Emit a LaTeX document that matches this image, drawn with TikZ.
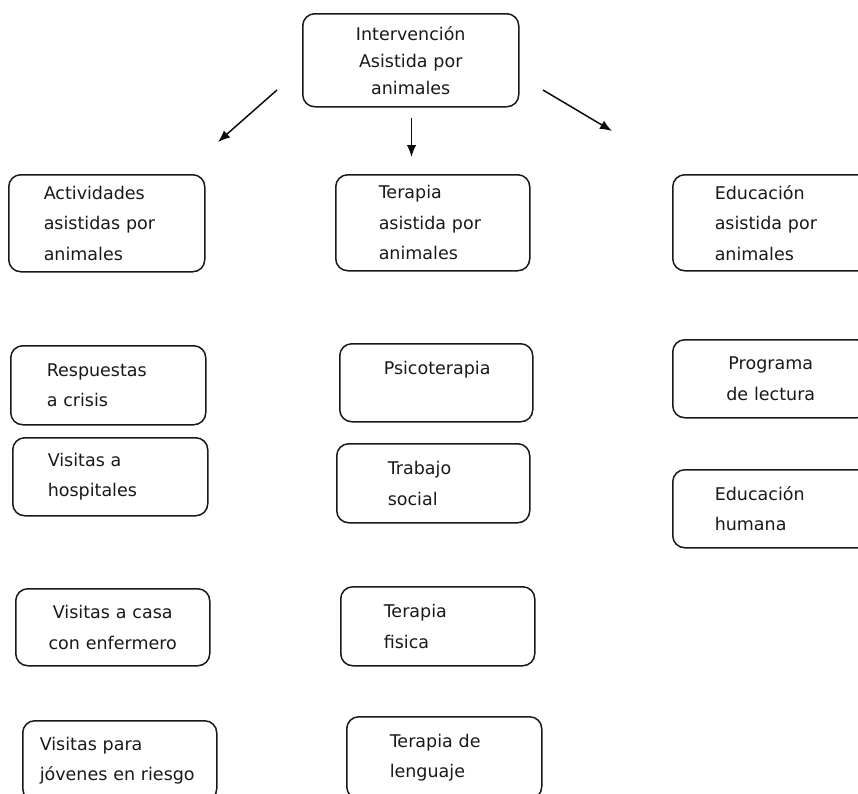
\documentclass[tikz,border=0pt]{standalone}
\usepackage{fontspec}
\setmainfont{DejaVu Sans}
\usetikzlibrary{arrows.meta}
\tikzset{
	box/.style={draw=black!90, line width=1.5pt, rounded corners=12pt, anchor=north west,
		align=left, inner ysep=0pt, text=black!90,
		font=\fontsize{17.5}{30.5}\selectfont},
	arr/.style={draw=black!95, line width=1.5pt, -{Latex[length=12pt,width=9.5pt]}}
}

\begin{document}
\begin{tikzpicture}[x=1pt, y=-1pt]
		%%%%% START %%%%%
		
		\useasboundingbox (0, 0) rectangle (858, 793);
		\clip (0, 0) rectangle (858, 793);
		
		\node[box, align=center, inner xsep=14pt, text width=188pt, minimum height=93pt,
			font=\fontsize{17.5}{27}\selectfont] (iaa) at (302, 13) {Intervención\\Asistida por\\animales};
		
		\coordinate (l1) at (277, 90);
		\coordinate (l2) at (218, 142);
		\coordinate (m1) at (411.5, 118);
		\coordinate (m2) at (411.5, 157);
		\coordinate (r1) at (543, 90);
		\coordinate (r2) at (612, 131);
		\draw[arr] (l1) -- (l2);
		\draw[arr] (m1) -- (m2);
		\draw[arr] (r1) -- (r2);
		
		\node[box, inner xsep=35pt, text width=126pt, minimum height=97pt] (aaa) at (8, 174) {Actividades\\asistidas por\\animales};
		\node[box, inner xsep=43pt, text width=108pt, minimum height=96pt] (taa) at (335, 174) {Terapia\\asistida por\\animales};
		\node[box, inner xsep=42pt, text width=126pt, minimum height=96pt] (eaa) at (672, 174) {Educación\\asistida por\\animales};
		
		\node[box, inner xsep=36pt, text width=123pt, minimum height=79pt] (crisis) at (10, 345) {Respuestas\\a crisis};
		\node[box, inner xsep=35pt, text width=125pt, minimum height=78pt] (hosp) at (12, 437) {Visitas a\\hospitales};
		\node[box, align=center, inner xsep=8pt, text width=178pt, minimum height=77pt] (casa) at (15, 588) {Visitas a casa\\con enfermero};
		\node[box, inner xsep=17pt, text width=160pt, minimum height=80pt] (jov) at (22, 720) {Visitas para\\jóvenes en riesgo};
		
		\node[box, inner xsep=44pt, text width=105pt, minimum height=78pt] (psico) at (339, 343) {Psicoterapia\\\mbox{}};
		\node[box, inner xsep=51pt, text width=91pt, minimum height=79pt] (social) at (336, 443) {Trabajo\\social};
		\node[box, inner xsep=43pt, text width=108pt, minimum height=79pt] (fisica) at (340, 586) {Terapia\\fisica};
		\node[box, inner xsep=43pt, text width=109pt, minimum height=82pt] (leng) at (346, 716) {Terapia de\\lenguaje};
		
		\node[box, align=center, inner xsep=26pt, text width=144pt, minimum height=78pt] (lect) at (672, 339) {Programa\\de lectura};
		\node[box, inner xsep=42pt, text width=126pt, minimum height=78pt] (hum) at (672, 469) {Educación\\humana};
		
		%%%%% END %%%%%
\end{tikzpicture}
\end{document}
